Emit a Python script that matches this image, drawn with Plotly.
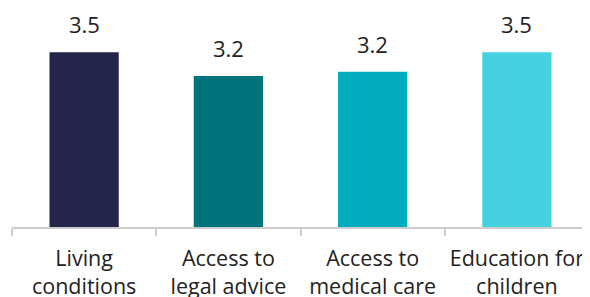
import plotly.graph_objects as go

categories = ["Living<br>conditions", "Access to<br>legal advice", "Access to<br>medical care", "Education for<br>children"]
values = [3.5, 3.16, 3.22, 3.5]
colors = ["#25254b", "#00727b", "#00abbd", "#46d1e0"]
scale_min = 1

FONT = "Open Sans, Lato, sans-serif"

fig = go.Figure()
fig.add_trace(go.Bar(
    x=categories,
    y=[v - scale_min for v in values],
    base=scale_min,
    marker=dict(color=colors, line=dict(width=0)),
    width=0.48,
    hoverinfo="skip",
))

for c, v in zip(categories, values):
    fig.add_annotation(
        x=c, y=v, text=f"{v:.1f}", showarrow=False,
        yanchor="bottom", yshift=11,
        font=dict(family=FONT, size=22, color="#222222"),
    )

# page body has an 8px default margin; size the figure to compensate
fig.update_layout(
    width=582, height=289,
    margin=dict(l=4, r=1, t=0, b=70),
    paper_bgcolor="white", plot_bgcolor="white",
    showlegend=False,
)
fig.update_xaxes(
    showline=True, linecolor="#cccccc", linewidth=2,
    ticks="outside", tickson="boundaries", ticklen=7, tickcolor="#cccccc", tickwidth=2,
    tickfont=dict(family=FONT, size=21.5, color="#222222"),
    tickangle=0,
    ticklabelstandoff=11,
    showgrid=False, automargin=False,
)
fig.update_yaxes(
    range=[scale_min, 4.133], visible=False, showgrid=False, zeroline=False,
)

fig.write_html("out.html")
